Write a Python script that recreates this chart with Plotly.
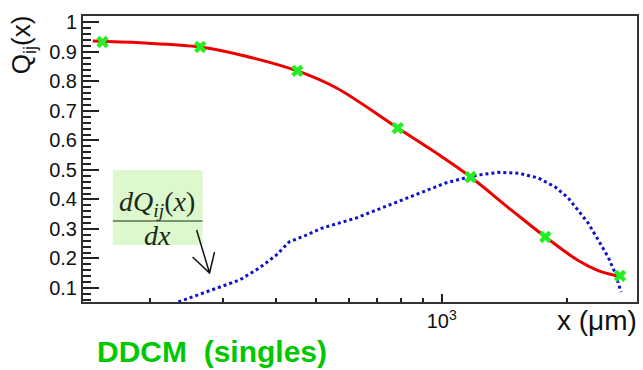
import plotly.graph_objects as go

# Measured Q_ij(x) points (x in micrometres)
meas_x = [154, 264, 451, 785, 1173, 1771, 2675]
meas_q = [0.934, 0.917, 0.836, 0.642, 0.476, 0.273, 0.141]
meas_err = [0.01, 0.01, 0.01, 0.01, 0.01, 0.01, 0.01]

# Smooth fit curve through the measurements
fit_x = [146, 190, 264, 330, 451, 560, 785, 1010, 1173, 1469, 1771, 2123, 2370, 2634]
fit_q = [0.937, 0.931, 0.917, 0.890, 0.836, 0.778, 0.642, 0.541, 0.476, 0.364, 0.273, 0.193, 0.159, 0.141]

# Derivative dQ_ij(x)/dx (arbitrary scale)
deriv_x = [234, 257, 283, 328, 366, 402, 431, 468, 517, 623, 803, 1022, 1160,
           1226, 1368, 1527, 1704, 1871, 2010, 2123, 2243, 2370, 2504, 2602, 2689]
deriv_y = [0.053, 0.073, 0.093, 0.127, 0.168, 0.212, 0.256, 0.276, 0.303, 0.337, 0.398, 0.456, 0.476,
           0.483, 0.492, 0.489, 0.473, 0.442, 0.405, 0.364, 0.320, 0.263, 0.205, 0.151, 0.086]

y_ticks = [0.1, 0.2, 0.3, 0.4, 0.5, 0.6, 0.7, 0.8, 0.9, 1.0]
y_labels = ["0.1", "0.2", "0.3", "0.4", "0.5", "0.6", "0.7", "0.8", "0.9", "1"]
x_major = [1000]
x_major_labels = ["10<sup>3</sup>"]
x_minor = [200, 300, 400, 500, 600, 700, 800, 900, 2000]

SANS = "Liberation Sans, Arial, sans-serif"
SERIF = "Liberation Serif, Times New Roman, serif"

fig = go.Figure()

fig.add_trace(go.Scatter(
    x=deriv_x, y=deriv_y, mode="lines",
    line=dict(color="#1010cc", width=3, dash="dot"),
    showlegend=False, hoverinfo="skip"))

fig.add_trace(go.Scatter(
    x=fit_x, y=fit_q, mode="lines",
    line=dict(color="#ee0000", width=3, shape="spline", smoothing=1.0),
    showlegend=False, hoverinfo="skip"))

fig.add_trace(go.Scatter(
    x=meas_x, y=meas_q, mode="markers",
    marker=dict(symbol="x", size=11, color="#22ee22", line=dict(width=0)),
    error_y=dict(type="data", array=meas_err, color="#111111", thickness=2, width=0),
    showlegend=False))

L, R, T, B = 83, 4, 16, 68
W, H = 643, 370
pw, ph = W - L - R, H - T - B


def px(xp):
    return (xp - L) / pw


def py(yp):
    return (H - B - yp) / ph


# Light green box holding the derivative label
fig.add_shape(type="rect", xref="paper", yref="paper",
              x0=px(113), x1=px(203), y0=py(245), y1=py(170),
              fillcolor="#dcf8cc", line=dict(width=0), layer="below")
fig.add_shape(type="line", xref="paper", yref="paper",
              x0=px(113), x1=px(203), y0=py(221), y1=py(221),
              line=dict(color="#1a2a1a", width=1.2))
fig.add_annotation(xref="paper", yref="paper", x=px(157), y=py(204),
                   text="<i>dQ</i><sub><i>ij</i></sub>(<i>x</i>)", showarrow=False,
                   font=dict(family=SERIF, size=28, color="#1a2a1a"),
                   xanchor="center", yanchor="middle")
fig.add_annotation(xref="paper", yref="paper", x=px(158), y=py(236),
                   text="<i>dx</i>", showarrow=False,
                   font=dict(family=SERIF, size=28, color="#1a2a1a"),
                   xanchor="center", yanchor="middle")
# Open-headed arrow pointing at the derivative curve
fig.add_shape(type="path", xref="paper", yref="paper",
              path=(f"M {px(197)} {py(230)} L {px(210)} {py(273)} "
                    f"M {px(193)} {py(257)} L {px(210)} {py(273)} L {px(215)} {py(252)}"),
              line=dict(color="#111111", width=1.5))

# Axis titles and caption
fig.add_annotation(xref="paper", yref="paper", x=px(23), y=py(45),
                   text="Q<sub>ij</sub>(x)", textangle=-90, showarrow=False,
                   font=dict(family=SANS, size=26, color="#111111"),
                   xanchor="center", yanchor="middle")
fig.add_annotation(xref="paper", yref="paper", x=px(641), y=py(320),
                   text="x (μm)", showarrow=False,
                   font=dict(family=SANS, size=28, color="#111111"),
                   xanchor="right", yanchor="middle")
fig.add_annotation(xref="paper", yref="paper", x=px(96), y=py(351),
                   text="<b>DDCM  (singles)</b>", showarrow=False,
                   font=dict(family=SANS, size=30, color="#00c800"),
                   xanchor="left", yanchor="middle", borderpad=0)

fig.update_layout(
    width=W, height=H,
    margin=dict(l=L, r=R, t=T, b=B),
    paper_bgcolor="white", plot_bgcolor="white",
    font=dict(family=SANS, size=20, color="#111111"),
    xaxis=dict(type="log", range=[2.1408, 3.4678],
               tickmode="array", tickvals=x_major, ticktext=x_major_labels,
               ticks="inside", ticklen=8, tickwidth=1.5, tickcolor="#222",
               minor=dict(tickmode="array", tickvals=x_minor, ticks="inside",
                          ticklen=4, tickwidth=1.5, tickcolor="#222", showgrid=False),
               showgrid=False, zeroline=False,
               showline=True, linecolor="#333", linewidth=2, mirror=True,
               tickfont=dict(size=20)),
    yaxis=dict(range=[0.0525, 1.022],
               tickmode="array", tickvals=y_ticks, ticktext=y_labels,
               ticks="inside", ticklen=16, tickwidth=1.5, tickcolor="#222",
               minor=dict(dtick=0.02, tick0=0, ticks="inside", ticklen=8,
                          tickwidth=1.5, tickcolor="#222", showgrid=False),
               showgrid=False, zeroline=False,
               showline=True, linecolor="#333", linewidth=2, mirror=True,
               tickfont=dict(size=20)),
)

fig.write_html("out.html")
